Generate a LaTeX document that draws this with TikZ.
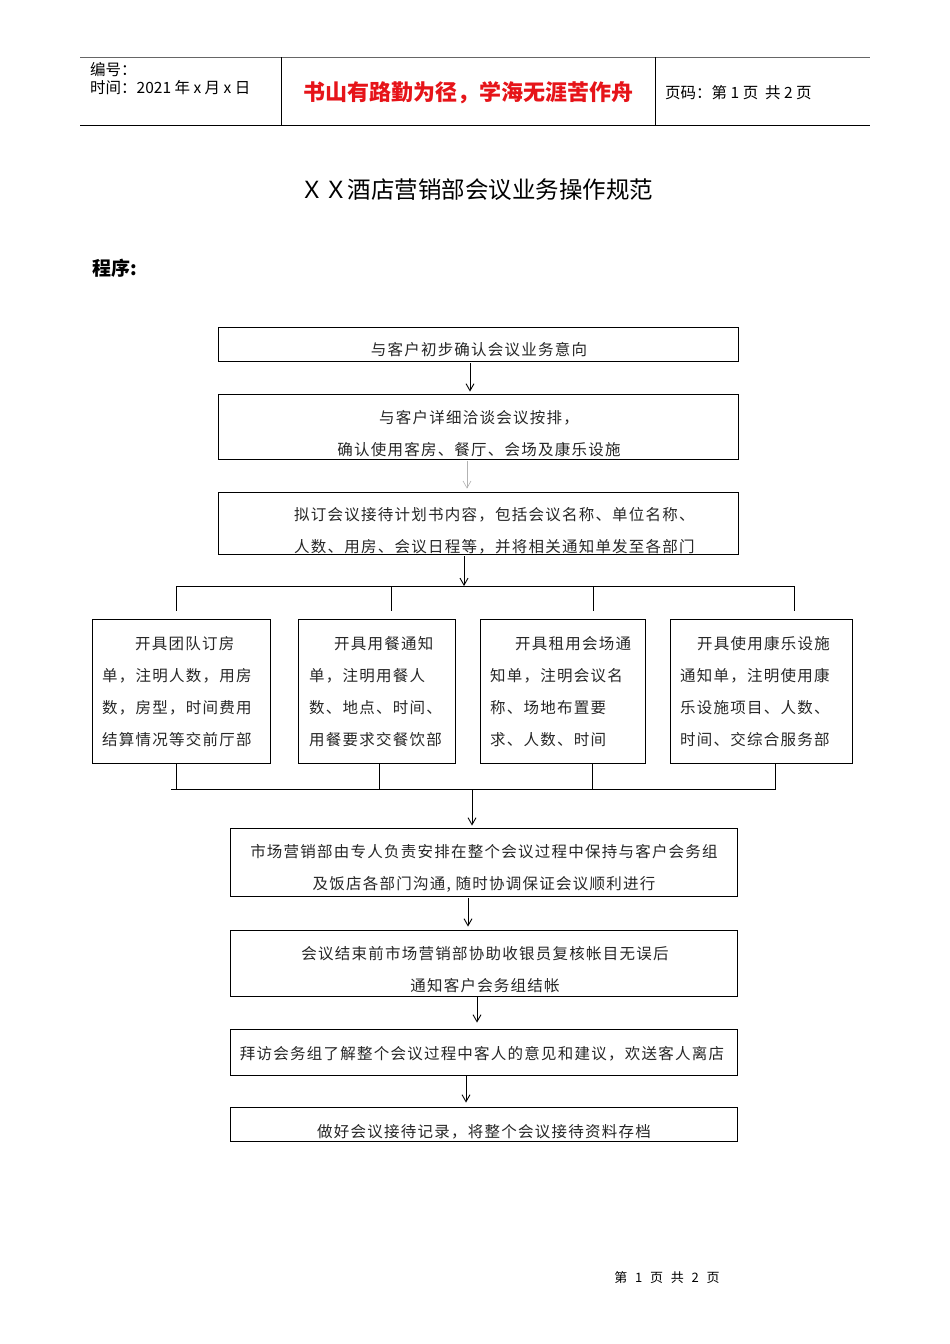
\documentclass[tikz,border=0pt]{standalone}
\usepackage{fontspec}
\setmainfont{Noto Sans CJK SC}
\newfontfamily\boxfont[LetterSpace=8]{Noto Sans CJK SC}
\usetikzlibrary{arrows.meta}
\begin{document}
\begin{tikzpicture}[x=1pt,y=-1pt,
  box/.style={draw=black, line width=0.9pt, inner sep=0pt, rectangle},
  arr/.style={-{Straight Barb[length=7pt,width=8pt]}, line width=0.9pt},
  ln/.style={line width=0.9pt},
  txt/.style={font=\boxfont\fontsize{15.5}{32}\selectfont, inner sep=0pt, text=black!85},
  hdr/.style={font=\fontsize{15.5}{17}\selectfont, inner sep=0pt, anchor=west}]
\useasboundingbox (0,0) rectangle (950,1344);
% header
\coordinate (h1) at (80,57); \coordinate (h2) at (870,57);
\coordinate (h3) at (80,125); \coordinate (h4) at (870,125);
\coordinate (v1) at (281,57); \coordinate (v2) at (655,57);
\draw[line width=0.9pt, black!60] (h1) -- (h2);
\draw[line width=0.9pt] (h3) -- (h4);
\draw[line width=0.8pt] (v1) -- ++(0,68);
\draw[line width=0.8pt] (v2) -- ++(0,68);
\node[hdr] (bh) at (90,70) {编号：};
\node[hdr] (sj) at (90,88) {时间：2021 年 x 月 x 日};
\node[font=\fontsize{22}{24}\selectfont\bfseries, text={rgb,255:red,230;green,20;blue,25}, inner sep=0pt] (motto) at (468,93) {书山有路勤为径，学海无涯苦作舟};
\node[hdr] (ym) at (665,93) {页码：第 1 页\ \ 共 2 页};
% title
\node[font=\fontsize{23.5}{26}\selectfont, inner sep=0pt] (title) at (477,190) {ＸＸ酒店营销部会议业务操作规范};
\node[font=\fontsize{19}{22}\selectfont\bfseries, inner sep=0pt, anchor=west] (cx) at (92,268) {程序:};
% main boxes
\node[box, minimum width=520pt, minimum height=34pt] (b1) at (478,344) {};
\node[txt] (t1) at (479,350) {与客户初步确认会议业务意向};
\node[box, minimum width=520pt, minimum height=65pt] (b2) at (478,426.5) {};
\node[txt, align=center] (t2) at (479,434) {与客户详细洽谈会议按排，\\确认使用客房、餐厅、会场及康乐设施};
\node[box, minimum width=520pt, minimum height=62pt] (b3) at (478,523) {};
\node[txt, align=left, anchor=west] (t3) at (294,531) {拟订会议接待计划书内容，包括会议名称、单位名称、\\人数、用房、会议日程等，并将相关通知单发至各部门};
% four boxes
\node[box, minimum width=178pt, minimum height=144pt] (bA) at (181,691) {};
\node[box, minimum width=157pt, minimum height=144pt] (bB) at (376.5,691) {};
\node[box, minimum width=165pt, minimum height=144pt] (bC) at (562.5,691) {};
\node[box, minimum width=182pt, minimum height=144pt] (bD) at (761,691) {};
\node[txt, align=left, anchor=west] (tA) at (102,692) {\hspace*{33pt}开具团队订房\\单，注明人数，用房\\数，房型，时间费用\\结算情况等交前厅部};
\node[txt, align=left, anchor=west] (tB) at (309,692) {\hspace*{25pt}开具用餐通知\\单，注明用餐人\\数、地点、时间、\\用餐要求交餐饮部};
\node[txt, align=left, anchor=west] (tC) at (490,692) {\hspace*{25pt}开具租用会场通\\知单，注明会议名\\称、场地布置要\\求、人数、时间};
\node[txt, align=left, anchor=west] (tD) at (680,692) {\hspace*{17pt}开具使用康乐设施\\通知单，注明使用康\\乐设施项目、人数、\\时间、交综合服务部};
% lower boxes
\node[box, minimum width=507pt, minimum height=68pt] (bE) at (483.5,862) {};
\node[txt, align=center] (tE) at (484,868) {市场营销部由专人负责安排在整个会议过程中保持与客户会务组\\及饭店各部门沟通, 随时协调保证会议顺利进行};
\node[box, minimum width=507pt, minimum height=66pt] (bF) at (483.5,963) {};
\node[txt, align=center] (tF) at (485,970) {会议结束前市场营销部协助收银员复核帐目无误后\\通知客户会务组结帐};
\node[box, minimum width=507pt, minimum height=46pt] (bG) at (483.5,1052) {};
\node[txt] (tG) at (482,1054) {拜访会务组了解整个会议过程中客人的意见和建议，欢送客人离店};
\node[box, minimum width=507pt, minimum height=34pt] (bH) at (483.5,1124) {};
\node[txt] (tH) at (484,1132) {做好会议接待记录，将整个会议接待资料存档};
% connectors
\draw[arr] ([xshift=-8pt,yshift=-2pt]b1.south) -- ([xshift=-8pt,yshift=2pt]b2.north);
\draw[arr, black!30, line width=0.6pt] ([xshift=-11pt,yshift=-2pt]b2.south) -- ([xshift=-11pt,yshift=3pt]b3.north);
\coordinate (busL) at (176,586); \coordinate (busR) at (794,586);
\coordinate (busM) at (464,586);
\draw[arr] ([xshift=-14pt,yshift=-2pt]b3.south) -- (busM);
\draw[ln] (busL) -- (busR);
\coordinate (dA) at (176,586); \coordinate (dB) at (391,586);
\coordinate (dC) at (593,586); \coordinate (dD) at (794,586);
\draw[ln] (dA) -- ++(0,25);
\draw[ln] (dB) -- ++(0,25);
\draw[ln] (dC) -- ++(0,25);
\draw[ln] (dD) -- ++(0,25);
\coordinate (uA) at (176,789); \coordinate (uB) at (379,789);
\coordinate (uC) at (592,789); \coordinate (uD) at (775,789);
\coordinate (uL) at (171,789); \coordinate (uR) at (776,789);
\draw[ln] (uA |- bA.south) -- (uA);
\draw[ln] (uB |- bB.south) -- (uB);
\draw[ln] (uC |- bC.south) -- (uC);
\draw[ln] (uD |- bD.south) -- (uD);
\draw[ln] (uL) -- (uR);
\coordinate (uM) at (472,789);
\draw[arr] (uM) -- ([xshift=-11.5pt,yshift=2pt]bE.north);
\draw[arr] ([xshift=-15.5pt,yshift=-2pt]bE.south) -- ([xshift=-15.5pt,yshift=3pt]bF.north);
\draw[arr] ([xshift=-6.5pt]bF.south) -- ([xshift=-6.5pt,yshift=6pt]bG.north);
\draw[arr] ([xshift=-17.5pt,yshift=-1pt]bG.south) -- ([xshift=-17.5pt,yshift=4pt]bH.north);
% footer
\node[font=\fontsize{13}{15}\selectfont, inner sep=0pt] (ft) at (667,1278) {第\hspace{0.6em}1\hspace{0.6em}页\hspace{0.6em}共\hspace{0.6em}2\hspace{0.6em}页};
\end{tikzpicture}
\end{document}
